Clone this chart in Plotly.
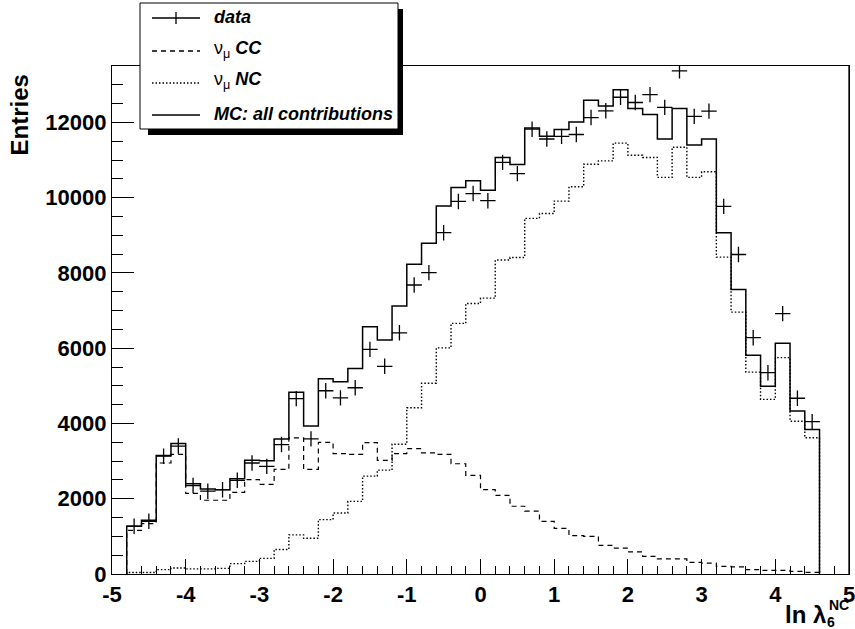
import numpy as np
import plotly.graph_objects as go

# ---------------- data (47 bins of width 0.2 from -4.8 to 4.6) ----------------
bin_edges = np.round(np.linspace(-4.8, 4.6, 48), 2)
bin_centers = np.round((bin_edges[:-1] + bin_edges[1:]) / 2, 2)

mc_all = [1270, 1430, 3150, 3470, 2400, 2260, 2240, 2530, 3020, 3010,
          3590, 4830, 3930, 5190, 5110, 5460, 6570, 6220, 7120, 8230,
          8790, 9780, 10270, 10450, 10200, 11070, 10880, 11850, 11630, 11810,
          12010, 12590, 12440, 12870, 12370, 12210, 11560, 12370, 11400, 11560,
          9070, 7560, 5810, 4990, 6130, 4330, 3840]

nu_cc = [1160, 1340, 2950, 3180, 2140, 1960, 1960, 2170, 2510, 2380,
         2780, 3620, 2780, 3500, 3200, 3180, 3490, 3020, 3200, 3330,
         3220, 3180, 2930, 2620, 2240, 2090, 1800, 1670, 1400, 1210,
         1020, 1000, 760, 690, 590, 470, 400, 400, 310, 290,
         200, 190, 115, 95, 95, 70, 45]

nu_nc = [40, 40, 115, 160, 135, 135, 150, 275, 335, 415,
         650, 1040, 950, 1445, 1620, 1930, 2600, 2760, 3450, 4420,
         5070, 6010, 6660, 7190, 7330, 8345, 8410, 9450, 9580, 9910,
         10290, 10890, 10980, 11450, 11130, 11070, 10540, 11340, 10540, 10690,
         8420, 6960, 5365, 4640, 5750, 4060, 3620]

data_vals = [1270, 1400, 3130, 3400, 2350, 2200, 2240, 2490, 2950, 2860,
             3440, 4660, 3590, 4870, 4680, 4950, 5970, 5520, 6410, 7680,
             8010, 9070, 9900, 10110, 9920, 10940, 10640, 11820, 11560, 11630,
             11680, 12130, 12310, 12670, 12530, 12740, 12400, 13370, 12160, 12300,
             9770, 8490, 6280, 5350, 6920, 4670, 4050]

x_tickvals = [-5, -4, -3, -2, -1, 0, 1, 2, 3, 4, 5]
x_ticktext = ["-5", "-4", "-3", "-2", "-1", "0", "1", "2", "3", "4", "5"]
y_tickvals = [0, 2000, 4000, 6000, 8000, 10000, 12000]
y_ticktext = ["0", "2000", "4000", "6000", "8000", "10000", "12000"]

legend_labels = ["<b><i>data</i></b>",
                 "ν<sub>μ</sub> <b><i>CC</i></b>",
                 "ν<sub>μ</sub> <b><i>NC</i></b>",
                 "<b><i>MC: all contributions</i></b>"]

# ---------------- layout geometry (pixels) ----------------
W, H = 855, 629
L, R, T, B = 112, 6, 66, 55
PW, PH = W - L - R, H - T - B
FONT = "Liberation Sans"


def px(xp):
    return (xp - L) / PW


def py(yp):
    return (H - B - yp) / PH


def step_xy(vals):
    xs = [bin_edges[0]] + list(bin_edges[:-1]) + [bin_edges[-1]]
    ys = [0] + list(vals) + [0]
    return xs, ys


fig = go.Figure()

for vals, dash, width in [(nu_nc, "1.5px,2px", 1.4),
                          (nu_cc, "5px,4px", 1.2),
                          (mc_all, "solid", 1.5)]:
    xs, ys = step_xy(vals)
    fig.add_trace(go.Scatter(x=xs, y=ys, mode="lines", line_shape="hv",
                             line=dict(color="black", width=width, dash=dash),
                             showlegend=False, hoverinfo="skip"))

fig.add_trace(go.Scatter(x=bin_centers, y=data_vals, mode="markers",
                         marker=dict(symbol="cross-thin", size=11,
                                     line=dict(color="black", width=1.3)),
                         showlegend=False))

axis_common = dict(showline=True, mirror=True, linecolor="black", linewidth=1.3,
                   showgrid=False, zeroline=False, ticks="inside", automargin=False,
                   tickcolor="black", tickwidth=1.2, ticklabeloverflow="allow",
                   tickfont=dict(family=FONT, size=22, color="black", weight="bold"))

fig.update_xaxes(range=[-5, 5], tickmode="array", tickvals=x_tickvals,
                 ticktext=x_ticktext, ticklen=15,
                 minor=dict(ticks="inside", tickmode="linear", tick0=-5, dtick=0.2,
                            ticklen=7.5, tickcolor="black", tickwidth=1.2),
                 **axis_common)
fig.update_yaxes(range=[0, 13500], tickmode="array", tickvals=y_tickvals,
                 ticktext=y_ticktext, ticklen=22,
                 minor=dict(ticks="inside", tickmode="linear", tick0=0, dtick=500,
                            ticklen=11, tickcolor="black", tickwidth=1.2),
                 **axis_common)

shapes = []
annotations = []

# right frame edge (explicit, in case the mirror line falls on the page edge)
shapes.append(dict(type="line", xref="paper", yref="paper",
                   x0=1, x1=1, y0=0, y1=1,
                   line=dict(color="black", width=1.3), layer="above"))

# legend shadow and box
shapes.append(dict(type="rect", xref="paper", yref="paper",
                   x0=px(148), x1=px(403), y0=py(135), y1=py(9),
                   fillcolor="black", line=dict(width=0), layer="above"))
shapes.append(dict(type="rect", xref="paper", yref="paper",
                   x0=px(140), x1=px(398), y0=py(129), y1=py(3),
                   fillcolor="white", line=dict(color="black", width=1), layer="above"))

row_y = [17, 49, 81, 114]
line_y = [18, 51, 83, 115]
dashes = ["solid", "5px,4px", "1.5px,2px", "solid"]
for i in range(4):
    shapes.append(dict(type="line", xref="paper", yref="paper",
                       x0=px(152), x1=px(200), y0=py(line_y[i]), y1=py(line_y[i]),
                       line=dict(color="black", width=1.3, dash=dashes[i]), layer="above"))
    annotations.append(dict(text=legend_labels[i], xref="paper", yref="paper",
                            x=px(212), y=py(row_y[i]), xanchor="left", yanchor="middle",
                            showarrow=False,
                            font=dict(family=FONT, size=18, color="black")))
# cross marker in legend data entry
shapes.append(dict(type="line", xref="paper", yref="paper",
                   x0=px(176), x1=px(176), y0=py(line_y[0] - 6), y1=py(line_y[0] + 6),
                   line=dict(color="black", width=1.3), layer="above"))

# axis titles
annotations.append(dict(text="Entries", xref="paper", yref="paper",
                        x=px(19), y=py(73), xanchor="center", yanchor="top",
                        textangle=-90, showarrow=False,
                        font=dict(family=FONT, size=24, color="black", weight="bold")))
annotations.append(dict(text="ln λ", xref="paper", yref="paper",
                        x=px(828), y=py(614), xanchor="right", yanchor="middle",
                        showarrow=False,
                        font=dict(family=FONT, size=24, color="black", weight="bold")))
annotations.append(dict(text="NC", xref="paper", yref="paper",
                        x=px(827), y=py(605), xanchor="left", yanchor="middle",
                        showarrow=False,
                        font=dict(family=FONT, size=14, color="black", weight="bold")))
annotations.append(dict(text="6", xref="paper", yref="paper",
                        x=px(825), y=py(622), xanchor="left", yanchor="middle",
                        showarrow=False,
                        font=dict(family=FONT, size=14, color="black", weight="bold")))

fig.update_layout(width=W, height=H, margin=dict(l=L, r=R, t=T, b=B, pad=0),
                  paper_bgcolor="white", plot_bgcolor="white",
                  shapes=shapes, annotations=annotations, showlegend=False)

fig.write_html("out.html", config={"displayModeBar": False},
               post_script="document.body.style.margin='0px';"
                           "document.body.style.overflow='hidden';")
